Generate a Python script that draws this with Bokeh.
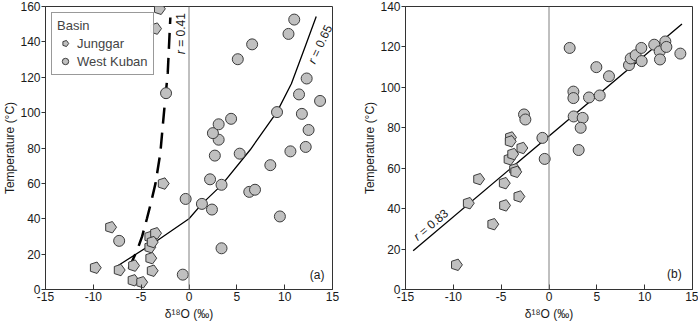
import math
from bokeh.plotting import figure
from bokeh.layouts import row
from bokeh.models import Range1d, FixedTicker, Label, Legend, LegendItem, Span
from bokeh.embed import file_html
from bokeh.resources import INLINE

FONT = "Liberation Sans"

# ---------------- data: panel (a) ----------------
a_jung_x = [-9.8, -8.2, -7.3, -5.8, -5.85, -4.95, -4.1, -3.5, -4.1, -4.0, -3.85, -3.85, -2.7, -3.1, -3.5]
a_jung_y = [12.3, 35.2, 11.0, 13.5, 5.2, 4.1, 29.8, 31.8, 23.9, 17.7, 10.6, 26.8, 59.9, 158.7, 147.5]

a_wk_x = [-7.3, -2.4, -0.65, -0.35, 1.35, 2.4, 2.2, 3.4, 3.4, 2.7, 3.1, 2.5, 3.1, 4.4, 5.3, 5.1,
          6.6, 6.3, 6.9, 8.5, 9.5, 9.2, 10.6, 12.2, 12.5, 11.8, 13.7, 11.5, 12.3, 10.4, 11.0]
a_wk_y = [27.5, 111.0, 8.4, 51.2, 48.4, 45.2, 62.3, 59.2, 23.3, 75.7, 84.7, 88.4, 93.4, 96.5, 76.8, 130.2,
          138.6, 55.2, 56.4, 70.3, 41.3, 100.3, 78.1, 80.6, 90.2, 99.3, 106.6, 110.3, 119.3, 144.5, 152.6]

# fitted curves
a_fit_wk_x = [-7.4, -3.5, 0.0, 1.35, 3.4, 6.4, 9.2, 10.7, 12.1, 13.3]
a_fit_wk_y = [13.6, 27.0, 40.0, 48.4, 59.0, 79.0, 100.4, 116.3, 136.7, 154.4]
a_fit_jung_x = [-6.3, -5.4, -4.9, -4.4, -4.0, -3.5, -3.0, -2.64, -2.22, -1.95]
a_fit_jung_y = [11.7, 22.5, 30.0, 40.0, 48.5, 60.0, 77.0, 98.6, 122.6, 153.8]

# ---------------- data: panel (b) ----------------
b_jung_x = [-9.68, -8.44, -7.36, -5.88, -4.68, -4.65, -3.15, -3.6, -3.48, -4.18, -3.8, -4.03, -4.06, -2.84]
b_jung_y = [12.2, 42.7, 54.6, 32.3, 52.6, 41.6, 46.0, 59.5, 58.2, 64.4, 67.0, 75.2, 73.3, 70.0]

b_wk_x = [-2.61, -2.47, -0.69, -0.45, 2.16, 2.55, 2.55, 2.58, 3.52, 3.31, 3.1, 4.18, 5.3, 4.95, 6.27,
          8.36, 8.54, 9.06, 9.65, 9.69, 11.0, 11.57, 11.6, 12.16, 12.27, 13.73]
b_wk_y = [86.6, 84.1, 75.0, 64.6, 119.5, 97.9, 94.7, 85.6, 84.9, 80.0, 69.0, 95.0, 96.0, 110.0, 105.5,
          111.0, 114.3, 115.9, 119.5, 113.0, 121.1, 117.8, 113.8, 122.7, 120.0, 116.7]

b_fit_x = [-14.2, 13.9]
b_fit_y = [19.2, 131.4]

x_ticks = [-15, -10, -5, 0, 5, 10, 15]
x_tick_labels = ["-15", "-10", "-5", "0", "5", "10", "15"]
a_y_ticks = [0, 20, 40, 60, 80, 100, 120, 140, 160]
b_y_ticks = [0, 20, 40, 60, 80, 100, 120, 140]

FILL = "#c0c0c0"
EDGE = "#3c3c3c"
AX = "#333333"
PENT_ANGLE = math.pi / 2 + math.pi / 5


def make_fig(width, yend, yticks, mbr):
    p = figure(width=width, height=323, x_range=Range1d(-15, 15), y_range=Range1d(0, yend),
               output_backend="svg", toolbar_location=None,
               min_border_left=43, min_border_right=mbr, min_border_top=6, min_border_bottom=26)
    p.grid.visible = False
    p.outline_line_color = AX
    p.outline_line_width = 1
    p.background_fill_color = "white"
    p.border_fill_color = "white"
    p.xaxis.ticker = FixedTicker(ticks=x_ticks)
    p.xaxis.major_label_overrides = {t: s for t, s in zip(x_ticks, x_tick_labels)}
    p.yaxis.ticker = FixedTicker(ticks=yticks)
    p.xaxis.major_tick_in = 5
    p.xaxis.major_tick_out = 0
    p.yaxis.major_tick_in = 0
    p.yaxis.major_tick_out = 4
    for ax in (p.xaxis, p.yaxis):
        ax.minor_tick_line_color = None
        ax.axis_line_color = AX
        ax.major_tick_line_color = AX
        ax.major_label_text_font = FONT
        ax.major_label_text_font_size = "12px"
        ax.major_label_text_color = "#1a1a1a"
        ax.major_label_text_line_height = 1.0
        ax.axis_label_text_font = FONT
        ax.axis_label_text_font_size = "12px"
        ax.axis_label_text_font_style = "normal"
        ax.axis_label_text_color = "#1a1a1a"
        ax.axis_label_text_line_height = 1.0
        ax.major_label_standoff = 1
        ax.axis_label_standoff = 0
    p.xaxis.major_label_standoff = 2
    p.xaxis.axis_label_standoff = 3
    p.xaxis.axis_label = "δ¹⁸O (‰)"
    p.yaxis.axis_label = "Temperature (°C)"
    p.add_layout(Span(location=0, dimension="height", line_color="#808080", line_width=1))
    return p


def add_points(p, jx, jy, wx, wy):
    rj = p.ngon(x=jx, y=jy, radius=6, radius_units="screen", n=5, angle=PENT_ANGLE,
                fill_color=FILL, line_color=EDGE, line_width=1)
    rw = p.scatter(x=wx, y=wy, size=11, marker="circle", fill_color=FILL, line_color=EDGE, line_width=1)
    return rj, rw


def r_label(p, x, y, ang, txt):
    p.add_layout(Label(x=x, y=y, text="r", angle=ang, text_font=FONT, text_font_size="12px",
                       text_font_style="italic", text_align="left", text_baseline="middle",
                       text_color="#1a1a1a"))
    d = 7.5
    p.add_layout(Label(x=x, y=y, text=txt, angle=ang, x_offset=d * math.cos(ang), y_offset=d * math.sin(ang),
                       text_font=FONT, text_font_size="12px", text_align="left", text_baseline="middle",
                       text_color="#1a1a1a"))


# ---------------- panel (a) ----------------
p1 = make_fig(360, 160, a_y_ticks, 28)
p1.line(a_fit_wk_x, a_fit_wk_y, line_color="black", line_width=1.3)
p1.line(a_fit_jung_x, a_fit_jung_y, line_color="black", line_width=2.5, line_dash="16 9")
rj, rw = add_points(p1, a_jung_x, a_jung_y, a_wk_x, a_wk_y)
legend = Legend(items=[LegendItem(label="Junggar", renderers=[rj]),
                       LegendItem(label="West Kuban", renderers=[rw])],
                title="Basin", location="top_left")
legend.border_line_color = AX
legend.border_line_width = 1
legend.label_text_font = FONT
legend.label_text_font_size = "13px"
legend.title_text_font = FONT
legend.title_text_font_size = "13px"
legend.title_text_font_style = "normal"
legend.title_standoff = 2
legend.margin = 6
legend.padding = 5
legend.spacing = 2
legend.glyph_width = 16
legend.glyph_height = 16
legend.label_standoff = 4
legend.label_height = 16
p1.add_layout(legend)
r_label(p1, -0.8, 133, math.pi / 2, "= 0.41")
r_label(p1, 12.8, 128, math.radians(65), "= 0.65")
p1.add_layout(Label(x=13.4, y=8, text="(a)", text_font=FONT, text_font_size="12px",
                    text_align="center", text_baseline="middle", text_color="#1a1a1a"))

# ---------------- panel (b) ----------------
p2 = make_fig(338, 140, b_y_ticks, 6)
p2.line(b_fit_x, b_fit_y, line_color="black", line_width=1.3)
add_points(p2, b_jung_x, b_jung_y, b_wk_x, b_wk_y)
r_label(p2, -14.0, 25.4, math.radians(40), "= 0.83")
p2.add_layout(Label(x=13.1, y=7.6, text="(b)", text_font=FONT, text_font_size="12px",
                    text_align="center", text_baseline="middle", text_color="#1a1a1a"))

layout = row(p1, p2)
open("out.html", "w").write(file_html(layout, INLINE))
